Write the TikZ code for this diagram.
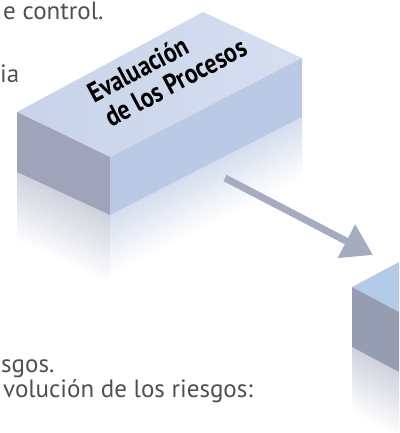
\documentclass[tikz,border=0pt]{standalone}
\usepackage{fontspec}
\setmainfont{PT Sans}
\usetikzlibrary{arrows.meta}
\definecolor{textgrey}{RGB}{80,80,82}
\definecolor{topface}{RGB}{200,211,234}
\definecolor{toplight}{RGB}{214,223,240}
\definecolor{sideface}{RGB}{160,164,184}
\definecolor{frontface}{RGB}{186,201,230}
\definecolor{sidereflect}{RGB}{208,211,222}
\definecolor{frontreflect}{RGB}{214,222,238}
\definecolor{topfacetwo}{RGB}{180,203,232}
\definecolor{sidefacetwo}{RGB}{150,156,178}
\definecolor{arrowgrey}{RGB}{166,172,192}
\tikzstyle{arrow} = [line width=7pt, -{Triangle[length=30pt, width=36pt]}, arrowgrey]

\begin{document}
\begin{tikzpicture}[x=1pt, y=-1pt,
    bodytext/.style={anchor=base west, inner sep=0pt, text=textgrey, font=\fontsize{25}{30}\selectfont},
    facelabel/.style={align=left, inner sep=0pt, rotate=28, xscale=0.85, font=\fontsize{28}{29}\selectfont\bfseries},
]
\useasboundingbox (0,0) rectangle (399,433);

% Block 1: reflections
\foreach \i [evaluate=\i as \p using 100-5*\i] in {0,...,19} {
    \fill[sidereflect!\p!white] (17,172+3.4*\i) -- (110,215+3.4*\i) -- (110,219+3.4*\i) -- (17,176+3.4*\i) -- cycle;
    \fill[frontreflect!\p!white] (110,215+3*\i) -- (302,117+3*\i) -- (302,121+3*\i) -- (110,219+3*\i) -- cycle;
}

% Block 1: faces
\shade[left color=topface, right color=toplight] (17,112) -- (203,12) -- (302,58) -- (110,157) -- cycle;
\fill[sideface] (17,112) -- (110,157) -- (110,215) -- (17,172) -- cycle;
\fill[frontface] (110,157) -- (302,58) -- (302,117) -- (110,215) -- cycle;
\node[facelabel] (proclabel) at (167,70) {Evaluación\\\hspace*{5pt}de los Procesos};

% Block 2: reflection and faces
\foreach \i [evaluate=\i as \p using 100-5*\i] in {0,...,19} {
    \fill[sidereflect!\p!white] (352,347+3.2*\i) -- (399,372+3.2*\i) -- (399,376+3.2*\i) -- (352,351+3.2*\i) -- cycle;
}
\fill[topfacetwo] (352,287) -- (399,262) -- (399,312) -- cycle;
\fill[sidefacetwo] (352,287) -- (399,312) -- (399,372) -- (352,347) -- cycle;

% Arrow
\coordinate (arrowstart) at (225,178);
\coordinate (arrowend) at (373,255);
\draw[arrow] (arrowstart) -- (arrowend);

% Text
\node[bodytext] (controltext) at (3,20) {e control.};
\node[bodytext] (iatext) at (0,83) {ia};
\node[bodytext] (sgostext) at (1,372) {sgos.};
\node[bodytext] (evoltext) at (3,397) {volución de los riesgos:};

\end{tikzpicture}
\end{document}
